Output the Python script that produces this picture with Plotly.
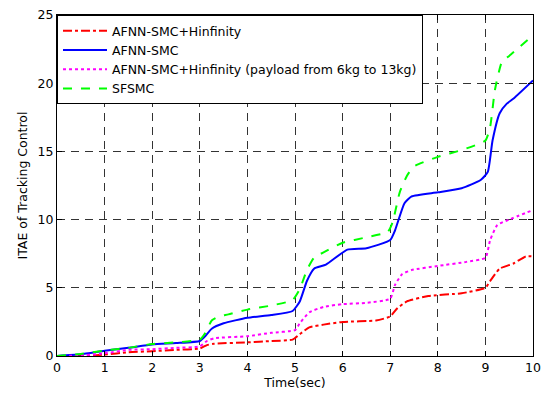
import plotly.graph_objects as go

# ---- data ----
t_green = [0, 0.5, 1, 1.5, 2, 2.5, 3, 3.1, 3.25, 3.4, 3.6, 4, 4.5, 4.95, 5.1, 5.25, 5.4, 5.6, 6, 6.5, 6.95, 7.05, 7.2, 7.35, 7.5, 8, 8.5, 9, 9.1, 9.2, 9.35, 9.5, 9.7, 10]
y_green = [0, 0.15, 0.4, 0.6, 0.88, 1.0, 1.2, 1.6, 2.6, 2.9, 3.05, 3.4, 3.7, 4.1, 4.9, 6.3, 7.2, 7.6, 8.3, 8.7, 9.1, 9.8, 12.0, 13.2, 13.9, 14.6, 15.1, 15.8, 16.8, 19.5, 21.6, 22.0, 22.6, 23.5]

t_blue = [0, 0.5, 1, 1.5, 2, 2.5, 3, 3.1, 3.25, 3.5, 4, 4.5, 4.95, 5.1, 5.25, 5.4, 5.65, 6.1, 6.5, 7, 7.1, 7.3, 7.45, 8, 8.5, 8.9, 9.05, 9.15, 9.3, 9.45, 9.6, 10]
y_blue = [0, 0.12, 0.38, 0.6, 0.85, 0.95, 1.1, 1.4, 2.0, 2.4, 2.8, 3.0, 3.3, 4.0, 5.5, 6.4, 6.7, 7.8, 7.9, 8.5, 9.2, 11.2, 11.7, 12.0, 12.3, 12.9, 13.5, 15.8, 17.8, 18.5, 18.9, 20.2]

t_mag = [0, 0.5, 1, 1.5, 2, 2.5, 3, 3.15, 3.3, 4, 4.5, 5, 5.1, 5.3, 5.6, 6, 6.5, 7, 7.1, 7.25, 7.45, 8, 8.6, 9, 9.1, 9.25, 9.5, 10]
y_mag = [0, 0.03, 0.2, 0.45, 0.5, 0.6, 0.7, 1.1, 1.3, 1.45, 1.7, 1.9, 2.4, 3.2, 3.6, 3.8, 3.9, 4.2, 5.2, 6.0, 6.3, 6.6, 6.9, 7.2, 8.5, 9.6, 10.0, 10.7]

t_red = [0, 0.5, 1, 1.5, 2, 2.5, 3, 3.15, 3.3, 4, 4.5, 4.95, 5.1, 5.3, 5.6, 6, 6.7, 7, 7.15, 7.35, 7.8, 8.5, 9, 9.1, 9.3, 9.6, 9.85, 10]
y_red = [0, 0.0, 0.1, 0.28, 0.35, 0.45, 0.55, 0.8, 0.9, 1.0, 1.1, 1.2, 1.6, 2.1, 2.3, 2.5, 2.6, 2.9, 3.5, 4.0, 4.4, 4.6, 5.0, 5.5, 6.4, 6.8, 7.3, 7.3]

names = ["AFNN-SMC+Hinfinity", "AFNN-SMC",
         "AFNN-SMC+Hinfinity (payload from 6kg to 13kg)", "SFSMC"]
x_ticks = list(range(0, 11))
y_ticks = [0, 5, 10, 15, 20, 25]

FONT = "DejaVu Sans, Liberation Sans, Arial, sans-serif"
FS = 12.5

fig = go.Figure()
series = [
    (t_red, y_red, names[0], "#ff0000", "dashdot"),
    (t_blue, y_blue, names[1], "#0000ff", "solid"),
    (t_mag, y_mag, names[2], "#ff00ff", "dot"),
    (t_green, y_green, names[3], "#00ff00", "dash"),
]
for t, y, n, c, d in series:
    fig.add_trace(go.Scatter(x=t, y=y, name=n, mode="lines",
                             line=dict(color=c, dash=d, width=2, shape="spline", smoothing=0.5)))

axis_common = dict(showline=True, linecolor="black", linewidth=1, mirror="ticks",
                   ticks="inside", ticklen=5, tickcolor="black", automargin=False,
                   showgrid=True, gridcolor="#333333", gridwidth=1, griddash="8px,6px",
                   zeroline=False, tickfont=dict(size=FS, color="black", family=FONT))

fig.update_xaxes(range=[0, 10], tickvals=x_ticks,
                 title=dict(text="Time(sec)", font=dict(size=FS, color="black", family=FONT), standoff=3),
                 **axis_common)
fig.update_yaxes(range=[0, 25], tickvals=y_ticks,
                 title=dict(text="ITAE of Tracking Control", font=dict(size=FS, color="black", family=FONT), standoff=7),
                 **axis_common)

fig.update_layout(
    width=545, height=393,
    margin=dict(l=57, r=12, t=15, b=37),
    paper_bgcolor="white", plot_bgcolor="white",
    font=dict(family=FONT, color="black"),
    legend=dict(x=0, y=1, xanchor="left", yanchor="top", bgcolor="white",
                bordercolor="black", borderwidth=1, font=dict(size=FS, family=FONT),
                itemwidth=44, tracegroupgap=0),
    showlegend=True,
)

fig.write_html("out.html")
